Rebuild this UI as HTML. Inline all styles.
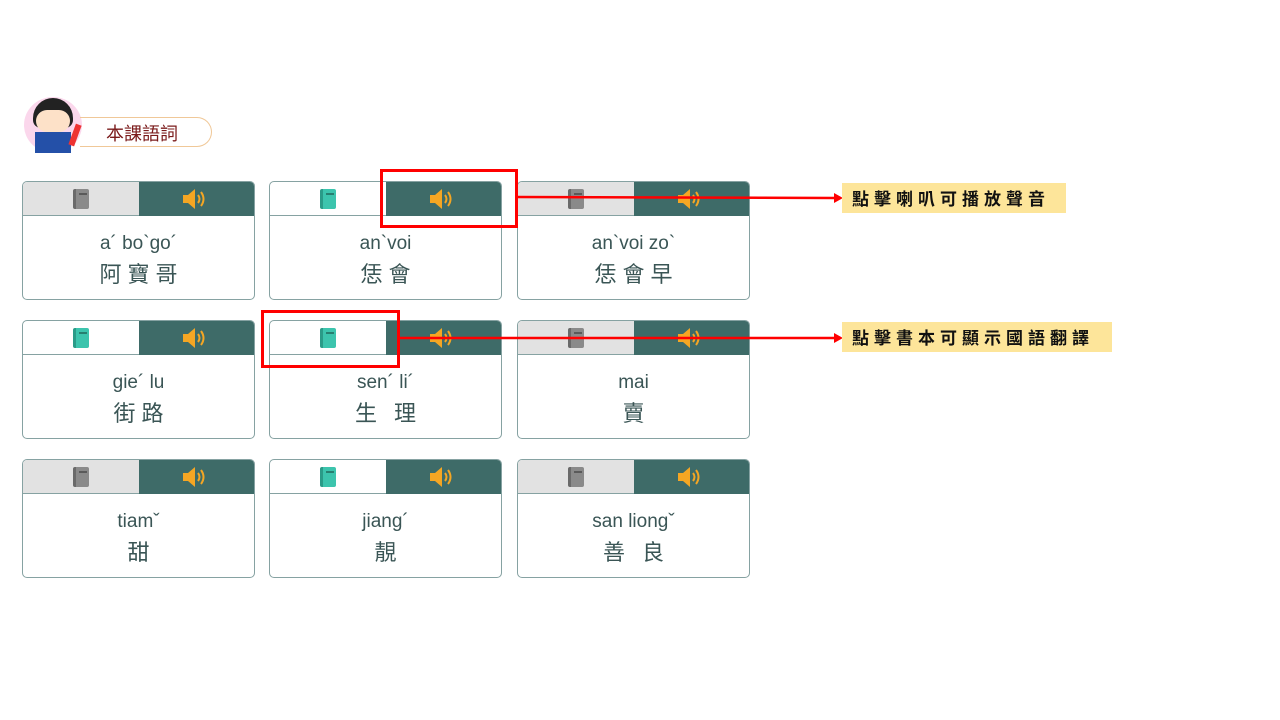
<!DOCTYPE html>
<html><head><meta charset="utf-8"><style>
body{margin:0;width:1280px;height:720px;background:#fff;position:relative;overflow:hidden;font-family:"Liberation Sans","Noto Sans CJK TC",sans-serif}
.card{position:absolute;width:231px;height:117px;border:1px solid #86a2a2;border-radius:5px;overflow:hidden;background:#fff}
.hl{position:absolute;left:0;top:0;width:116px;height:33px;border-bottom:1px solid #86a2a2}
.hr{position:absolute;left:116px;top:0;width:115px;height:34px;background:#3e6b68}
.g{background:#e2e2e2}
.py{position:absolute;top:51px;width:100%;text-align:center;font-size:19px;color:#3a5555}
.hz{position:absolute;top:75px;width:100%;text-align:center;font-size:22px;color:#3a5555;letter-spacing:6px;text-indent:6px;font-family:"Noto Sans CJK TC",sans-serif}
.bk{position:absolute;left:50px;top:7px;width:16px;height:20px;border-radius:2px}
.bk.t{background:#3cc4ad;border-left:3px solid #2a9b88;width:13px}
.bk.d{background:#8a8a8a;border-left:3px solid #6a6a6a;width:13px}
.bk::after{content:"";position:absolute;left:3px;top:4px;width:8px;height:2px;background:rgba(0,0,0,.35)}
.sp{position:absolute;left:44px;top:7px}
.red{position:absolute;border:3px solid #f00}
.lbl{position:absolute;background:#fde59a;font-size:17px;font-weight:bold;letter-spacing:5px;color:#111;font-family:"Noto Sans CJK TC",sans-serif;line-height:30px;padding-left:10px}
</style></head><body>
<div style="position:absolute;left:24px;top:97px;width:58px;height:56px;border-radius:50%;background:#fbd7ec"></div>
<div style="position:absolute;left:33px;top:98px;width:40px;height:30px;border-radius:20px 20px 8px 8px;background:#222"></div>
<div style="position:absolute;left:36px;top:110px;width:34px;height:22px;border-radius:12px;background:#fde1c8"></div>
<div style="position:absolute;left:35px;top:132px;width:36px;height:21px;background:#2450a8"></div>
<div style="position:absolute;left:72px;top:124px;width:6px;height:22px;background:#e33;transform:rotate(20deg)"></div>
<div style="position:absolute;left:80px;top:117px;width:132px;height:30px;border:1px solid #f0c898;border-left:none;border-radius:0 16px 16px 0;font-size:18px;color:#7a1a1a;line-height:30px;padding-left:26px;box-sizing:border-box;font-family:'Noto Sans CJK TC',sans-serif">本課語詞</div>

<svg width="0" height="0" style="position:absolute"><defs><g id="spk"><path d="M0 6h5l7-6v20l-7-6H0z" fill="#f5a623"/><path d="M15 6q3 4 0 8M18 3q5 7 0 14" stroke="#f5a623" stroke-width="2" fill="none"/></g></defs></svg>

<div class="card" style="left:22px;top:181px"><div class="hl g"><div class="bk d"></div></div><div class="hr"><svg class="sp" width="24" height="22"><use href="#spk"/></svg></div><div class="py">a´ bo`go´</div><div class="hz">阿寶哥</div></div>
<div class="card" style="left:269px;top:181px"><div class="hl"><div class="bk t"></div></div><div class="hr"><svg class="sp" width="24" height="22"><use href="#spk"/></svg></div><div class="py">an`voi</div><div class="hz">恁會</div></div>
<div class="card" style="left:517px;top:181px"><div class="hl g"><div class="bk d"></div></div><div class="hr"><svg class="sp" width="24" height="22"><use href="#spk"/></svg></div><div class="py">an`voi zo`</div><div class="hz">恁會早</div></div>
<div class="card" style="left:22px;top:320px"><div class="hl"><div class="bk t"></div></div><div class="hr"><svg class="sp" width="24" height="22"><use href="#spk"/></svg></div><div class="py">gie´ lu</div><div class="hz">街路</div></div>
<div class="card" style="left:269px;top:320px"><div class="hl"><div class="bk t"></div></div><div class="hr"><svg class="sp" width="24" height="22"><use href="#spk"/></svg></div><div class="py">sen´ li´</div><div class="hz">生 理</div></div>
<div class="card" style="left:517px;top:320px"><div class="hl g"><div class="bk d"></div></div><div class="hr"><svg class="sp" width="24" height="22"><use href="#spk"/></svg></div><div class="py">mai</div><div class="hz">賣</div></div>
<div class="card" style="left:22px;top:459px"><div class="hl g"><div class="bk d"></div></div><div class="hr"><svg class="sp" width="24" height="22"><use href="#spk"/></svg></div><div class="py">tiamˇ</div><div class="hz">甜</div></div>
<div class="card" style="left:269px;top:459px"><div class="hl"><div class="bk t"></div></div><div class="hr"><svg class="sp" width="24" height="22"><use href="#spk"/></svg></div><div class="py">jiang´</div><div class="hz">靚</div></div>
<div class="card" style="left:517px;top:459px"><div class="hl g"><div class="bk d"></div></div><div class="hr"><svg class="sp" width="24" height="22"><use href="#spk"/></svg></div><div class="py">san liongˇ</div><div class="hz">善 良</div></div>

<div class="red" style="left:380px;top:169px;width:132px;height:53px"></div>
<div class="red" style="left:261px;top:310px;width:133px;height:52px"></div>
<svg style="position:absolute;left:0;top:0" width="1280" height="720">
<line x1="516" y1="197" x2="836" y2="198" stroke="#f00" stroke-width="2.5"/>
<path d="M834 193l9 5-9 5z" fill="#f00"/>
<line x1="397" y1="338" x2="836" y2="338" stroke="#f00" stroke-width="2.5"/>
<path d="M834 333l9 5-9 5z" fill="#f00"/>
</svg>
<div class="lbl" style="left:842px;top:183px;width:214px;height:30px">點擊喇叭可播放聲音</div>
<div class="lbl" style="left:842px;top:322px;width:260px;height:30px">點擊書本可顯示國語翻譯</div>
</body></html>
